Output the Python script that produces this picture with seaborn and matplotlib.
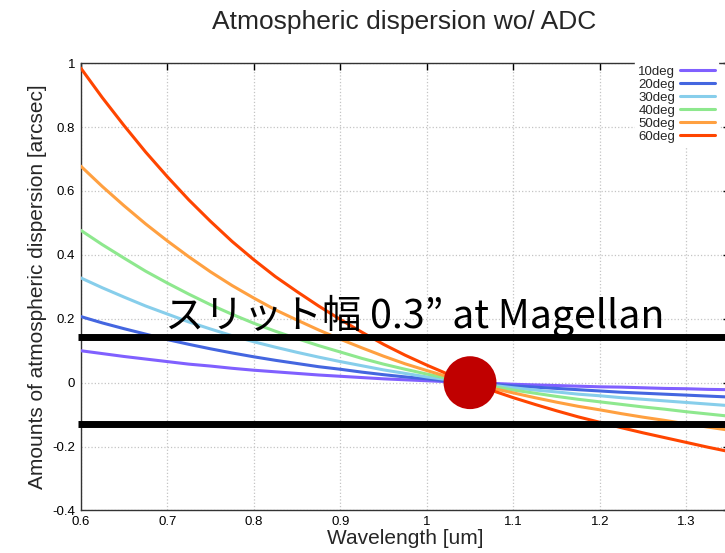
import numpy as np
import pandas as pd
import seaborn as sns
import matplotlib.pyplot as plt

## Data (every 0.025 um)
wavelength = [0.600, 0.625, 0.650, 0.675, 0.700, 0.725, 0.750, 0.775,
              0.800, 0.825, 0.850, 0.875, 0.900, 0.925, 0.950, 0.975,
              1.000, 1.025, 1.050, 1.075, 1.100, 1.125, 1.150, 1.175,
              1.200, 1.225, 1.250, 1.275, 1.300, 1.325, 1.350]
disp_60 = [0.985, 0.892, 0.805, 0.722, 0.645, 0.572, 0.505, 0.442,
           0.385, 0.332, 0.285, 0.240, 0.198, 0.158, 0.120, 0.086,
           0.055, 0.026, 0.0, -0.024, -0.047, -0.068, -0.088, -0.107,
           -0.124, -0.141, -0.157, -0.172, -0.187, -0.202, -0.216]
disp_50 = [0.678, 0.614, 0.554, 0.497, 0.444, 0.394, 0.347, 0.304,
           0.265, 0.228, 0.196, 0.165, 0.136, 0.109, 0.083, 0.059,
           0.038, 0.018, 0.0, -0.017, -0.032, -0.047, -0.061, -0.074,
           -0.085, -0.097, -0.108, -0.118, -0.129, -0.139, -0.149]
disp_40 = [0.477, 0.432, 0.390, 0.349, 0.312, 0.277, 0.244, 0.214,
           0.186, 0.161, 0.138, 0.116, 0.096, 0.076, 0.058, 0.042,
           0.027, 0.013, 0.0, -0.012, -0.023, -0.033, -0.043, -0.052,
           -0.060, -0.068, -0.076, -0.083, -0.091, -0.098, -0.105]
disp_30 = [0.328, 0.297, 0.268, 0.240, 0.215, 0.190, 0.168, 0.147,
           0.128, 0.111, 0.095, 0.080, 0.066, 0.053, 0.040, 0.029,
           0.018, 0.009, 0.0, -0.008, -0.016, -0.023, -0.029, -0.036,
           -0.041, -0.047, -0.052, -0.057, -0.062, -0.067, -0.072]
disp_20 = [0.207, 0.187, 0.169, 0.152, 0.135, 0.120, 0.106, 0.093,
           0.081, 0.070, 0.060, 0.050, 0.042, 0.033, 0.025, 0.018,
           0.012, 0.005, 0.0, -0.005, -0.010, -0.014, -0.018, -0.022,
           -0.026, -0.030, -0.033, -0.036, -0.039, -0.042, -0.045]
disp_10 = [0.100, 0.091, 0.082, 0.074, 0.066, 0.058, 0.052, 0.045,
           0.039, 0.034, 0.029, 0.024, 0.020, 0.016, 0.012, 0.009,
           0.006, 0.003, 0.0, -0.002, -0.005, -0.007, -0.009, -0.011,
           -0.013, -0.014, -0.016, -0.018, -0.019, -0.021, -0.022]
angles = ['10deg', '20deg', '30deg', '40deg', '50deg', '60deg']
colors = ['#8060FF', '#4466E0', '#87CEEB', '#8EE88E', '#FFA040', '#FF4500']

slit_edges = [0.144, -0.129]
ref_point = (1.05, 0.0)
slit_text = 'スリット幅 0.3” at Magellan'

series = [disp_10, disp_20, disp_30, disp_40, disp_50, disp_60]
df = pd.concat([pd.DataFrame({'wavelength': wavelength, 'dispersion': s, 'angle': a})
                for s, a in zip(series, angles)])

sns.set_theme(style='white')
plt.rcParams['font.family'] = ['Liberation Sans', 'DejaVu Sans']

fig = plt.figure(figsize=(7.25, 5.53), dpi=100)
ax = fig.add_axes([0.1113, 0.0769, 0.895, 0.8089])

sns.lineplot(data=df, x='wavelength', y='dispersion', hue='angle',
             palette=colors, lw=2.2, ax=ax, zorder=3)

ax.set_xlim(0.6, 1.35)
ax.set_ylim(-0.4, 1.0)
ax.set_xticks([0.6, 0.7, 0.8, 0.9, 1.0, 1.1, 1.2, 1.3])
ax.set_xticklabels(['0.6', '0.7', '0.8', '0.9', '1', '1.1', '1.2', '1.3'])
ax.set_yticks([-0.4, -0.2, 0, 0.2, 0.4, 0.6, 0.8, 1])
ax.set_yticklabels(['-0.4', '-0.2', '0', '0.2', '0.4', '0.6', '0.8', '1'])
ax.tick_params(direction='in', length=5, width=1, top=True, right=True,
               labelsize=9.5, colors='black', pad=4)
for sp in ax.spines.values():
    sp.set_color('#333333')
    sp.set_linewidth(1)
ax.grid(True, linestyle=':', color='#c4c4c4', lw=0.9)
ax.set_axisbelow(True)

ax.set_xlabel('Wavelength [um]', fontsize=15, labelpad=1)
ax.set_ylabel('Amounts of atmospheric dispersion [arcsec]', fontsize=15, labelpad=4)
fig.text(0.557, 0.96, 'Atmospheric dispersion wo/ ADC', fontsize=19,
         ha='center', va='center')

leg = ax.legend(loc='upper right', bbox_to_anchor=(718 / 725, 1 - 62 / 553),
                bbox_transform=fig.transFigure, markerfirst=False, fontsize=9.5,
                handlelength=2.6, handletextpad=0.4, labelspacing=0.06,
                borderpad=0.25, borderaxespad=0, frameon=True, fancybox=False,
                framealpha=1, edgecolor='white', facecolor='white')
for line in leg.get_lines():
    line.set_linewidth(2.2)

# slit edges and reference wavelength marker
for yv in slit_edges:
    ax.axhline(yv, xmin=-0.004, xmax=1, color='black', lw=5, clip_on=False,
               zorder=5, solid_capstyle='butt')
ax.scatter([ref_point[0]], [ref_point[1]], s=1450, color='#C00000', zorder=6,
           edgecolors='none')

fig.text(165 / 725, 0.407, slit_text, fontsize=28.3, color='black',
         family=['Noto Sans CJK JP', 'DejaVu Sans'], va='baseline', ha='left')

fig.savefig('out.png', dpi=100)
